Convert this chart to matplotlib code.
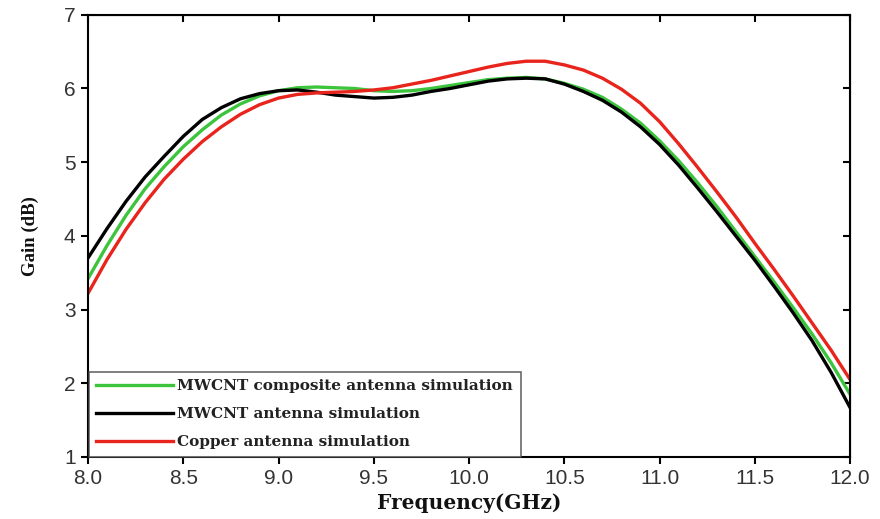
import matplotlib
matplotlib.use('Agg')
import matplotlib.pyplot as plt

freq = [8.0, 8.1, 8.2, 8.3, 8.4, 8.5, 8.6, 8.7, 8.8, 8.9,
        9.0, 9.1, 9.2, 9.3, 9.4, 9.5, 9.6, 9.7, 9.8, 9.9,
        10.0, 10.1, 10.2, 10.3, 10.4, 10.5, 10.6, 10.7, 10.8, 10.9,
        11.0, 11.1, 11.2, 11.3, 11.4, 11.5, 11.6, 11.7, 11.8, 11.9, 12.0]

gain_composite = [3.42, 3.87, 4.28, 4.64, 4.94, 5.21, 5.44, 5.64, 5.79, 5.90,
                  5.97, 6.01, 6.02, 6.01, 6.00, 5.97, 5.96, 5.97, 6.00, 6.04,
                  6.08, 6.12, 6.14, 6.15, 6.13, 6.07, 5.99, 5.88, 5.72, 5.53,
                  5.29, 5.02, 4.72, 4.40, 4.06, 3.72, 3.38, 3.03, 2.67, 2.28, 1.85]
gain_mwcnt = [3.70, 4.10, 4.47, 4.80, 5.08, 5.35, 5.58, 5.74, 5.86, 5.93,
              5.97, 5.98, 5.95, 5.91, 5.89, 5.87, 5.88, 5.91, 5.96, 6.00,
              6.05, 6.10, 6.13, 6.14, 6.13, 6.06, 5.96, 5.84, 5.68, 5.48,
              5.24, 4.96, 4.65, 4.33, 4.00, 3.67, 3.32, 2.96, 2.58, 2.15, 1.67]
gain_copper = [3.22, 3.68, 4.09, 4.45, 4.77, 5.04, 5.28, 5.48, 5.65, 5.78,
               5.87, 5.92, 5.94, 5.95, 5.96, 5.98, 6.01, 6.06, 6.11, 6.17,
               6.23, 6.29, 6.34, 6.37, 6.37, 6.32, 6.25, 6.14, 5.99, 5.80,
               5.55, 5.25, 4.93, 4.60, 4.26, 3.90, 3.55, 3.19, 2.82, 2.45, 2.05]

labels = ['MWCNT composite antenna simulation',
          'MWCNT antenna simulation',
          'Copper antenna simulation']
xticks = [8.0, 8.5, 9.0, 9.5, 10.0, 10.5, 11.0, 11.5, 12.0]
yticks = [1, 2, 3, 4, 5, 6, 7]

fig = plt.figure(figsize=(8.8, 5.19), dpi=100)
ax = fig.add_axes([0.1, 0.1195, 0.866, 0.852])

ax.plot(freq, gain_composite, color='#3dc43d', lw=2.4, label=labels[0])
ax.plot(freq, gain_mwcnt, color='black', lw=2.4, label=labels[1])
ax.plot(freq, gain_copper, color='#e8241c', lw=2.4, label=labels[2])

ax.set_xlim(8.0, 12.0)
ax.set_ylim(1, 7)
ax.set_xticks(xticks)
ax.set_xticklabels(['%.1f' % v for v in xticks])
ax.set_yticks(yticks)
ax.tick_params(direction='out', length=5, width=1.5, labelsize=15,
               labelcolor='#333333', pad=4)
for lab in ax.get_xticklabels() + ax.get_yticklabels():
    lab.set_family('Liberation Sans')
for s in ax.spines.values():
    s.set_linewidth(1.5)

# inward ticks on top and right
top = ax.secondary_xaxis('top')
top.set_xticks(xticks)
top.tick_params(direction='in', length=5, width=1.5, labeltop=False)
right = ax.secondary_yaxis('right')
right.set_yticks(yticks)
right.tick_params(direction='in', length=5, width=1.5, labelright=False)

ax.set_xlabel('Frequency(GHz)', family='DejaVu Serif', fontweight='bold',
              fontsize=14.5, labelpad=3, color='#111111')
ax.set_ylabel('Gain (dB)', family='Liberation Serif', fontweight='bold',
              fontsize=13.5, labelpad=18, color='#111111')

leg = ax.legend(loc='lower left', bbox_to_anchor=(0.001, 0.0),
                prop={'family': 'DejaVu Serif', 'weight': 'bold', 'size': 11},
                frameon=True, fancybox=False, edgecolor='#444444',
                handlelength=5.0, handletextpad=0.3, labelspacing=0.92,
                borderpad=0.5, borderaxespad=0)
leg.get_frame().set_linewidth(1.2)
for t in leg.get_texts():
    t.set_color('#222222')

fig.savefig('out.png', dpi=100)
